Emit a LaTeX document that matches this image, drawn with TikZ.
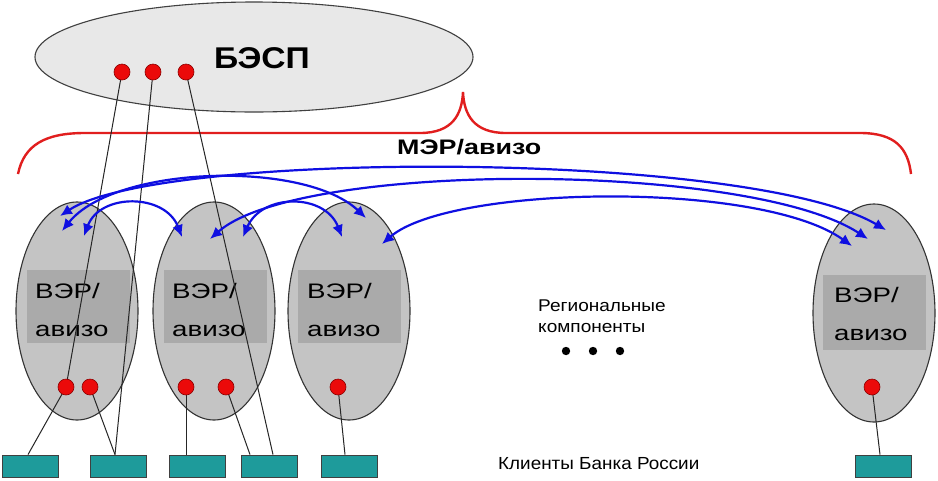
\documentclass[tikz,border=0pt]{standalone}
\usepackage{fontspec}
\setmainfont{Liberation Sans}
\usepackage{graphicx}
\usetikzlibrary{arrows.meta,shapes.geometric}
\definecolor{toplight}{RGB}{232,232,232}
\definecolor{regfill}{RGB}{196,196,196}
\definecolor{bandfill}{RGB}{170,170,170}
\definecolor{dotred}{RGB}{235,10,10}
\definecolor{tealbox}{RGB}{30,155,155}
\definecolor{arrblue}{RGB}{15,15,225}
\definecolor{bracered}{RGB}{225,30,30}
\tikzset{
  topell/.style={ellipse, draw=black!75, line width=1.1pt, fill=toplight, minimum width=438pt, minimum height=110pt, inner sep=0pt},
  reg/.style={ellipse, draw=black!80, line width=1.1pt, fill=regfill, minimum width=122pt, minimum height=218pt, inner sep=0pt},
  band/.style={fill=bandfill},
  rdot/.style={circle, fill=dotred, draw=red!55!black, line width=0.6pt, minimum size=16pt, inner sep=0pt},
  kbox/.style={rectangle, fill=tealbox, draw=black!75, line width=0.8pt, minimum width=56pt, minimum height=22pt, inner sep=0pt},
  wire/.style={draw=black!85, line width=1pt},
  barr/.style={draw=arrblue, line width=2.2pt, {Latex[length=12pt,width=11pt]}-{Latex[length=12pt,width=11pt]}},
  brace/.style={draw=bracered, line width=2.4pt},
  regtxt/.style={anchor=base west, font=\fontsize{21}{21}\selectfont, inner sep=0pt},
  small/.style={anchor=base west, font=\fontsize{17}{17}\selectfont, inner sep=0pt}
}
\begin{document}
\begin{tikzpicture}[x=1pt,y=-1pt]
\fill[white] (0,0) rectangle (938,480);
\useasboundingbox (0,0) rectangle (938,480);

% top ellipse
\node[topell] (bsp) at (254,57) {};
\node[font=\fontsize{30}{30}\selectfont\bfseries, anchor=base west, inner sep=0pt] (bsptxt) at (214,68) {\scalebox{1.12}[1]{БЭСП}};

% brace
\draw[brace] (18,174) .. controls (24,145) and (45,133) .. (85,133) -- (420,133)
  .. controls (452,133) and (462,115) .. (463,92)
  .. controls (464,115) and (474,133) .. (506,133) -- (860,133)
  .. controls (895,133) and (908,148) .. (911,174);
\node[font=\fontsize{21}{21}\selectfont\bfseries, anchor=base west, inner sep=0pt] (mer) at (397,154) {\scalebox{1.28}[1]{МЭР/авизо}};

% regional ellipses
\node[reg] (e1) at (77,311) {};
\node[reg] (e2) at (214,311) {};
\node[reg] (e3) at (349,311) {};
\node[reg] (e4) at (874,313) {};
\fill[band] (27,270) rectangle (130,343);
\fill[band] (164,270) rectangle (267,343);
\fill[band] (298,270) rectangle (401,343);
\fill[band] (823,275) rectangle (926,350);
\node[regtxt] (t1a) at (35,298) {\scalebox{1.32}[1]{ВЭР/}};
\node[regtxt] (t1b) at (35,336) {\scalebox{1.32}[1]{авизо}};
\node[regtxt] (t2a) at (172,298) {\scalebox{1.32}[1]{ВЭР/}};
\node[regtxt] (t2b) at (172,336) {\scalebox{1.32}[1]{авизо}};
\node[regtxt] (t3a) at (307,298) {\scalebox{1.32}[1]{ВЭР/}};
\node[regtxt] (t3b) at (307,336) {\scalebox{1.32}[1]{авизо}};
\node[regtxt] (t4a) at (834,302) {\scalebox{1.32}[1]{ВЭР/}};
\node[regtxt] (t4b) at (834,340) {\scalebox{1.32}[1]{авизо}};

% texts in the middle
\node[small] (rk1) at (538,311) {\scalebox{1.12}[1]{Региональные}};
\node[small] (rk2) at (538,332) {\scalebox{1.12}[1]{компоненты}};
\foreach \i/\xx in {1/566,2/593,3/620} \fill (\xx,351) circle (4.2pt);
\node[small, font=\fontsize{17.5}{17.5}\selectfont] (kbr) at (498,469) {\scalebox{1.08}[1]{Клиенты Банка России}};

% boxes
\node[kbox] (k1) at (30,466) {};
\node[kbox] (k2) at (118,466) {};
\node[kbox] (k3) at (197,466) {};
\node[kbox] (k4) at (269,466) {};
\node[kbox] (k5) at (349,466) {};
\node[kbox] (k6) at (883,466) {};

% dot positions
\coordinate (p1) at (122,72);
\coordinate (p2) at (153,72);
\coordinate (p3) at (186,72);
\coordinate (q11) at (66,387);
\coordinate (q12) at (90,387);
\coordinate (q21) at (186,387);
\coordinate (q22) at (226,387);
\coordinate (q31) at (338,387);
\coordinate (q41) at (872,387);

% wires
\draw[wire] (p1) -- (q11);
\draw[wire] (q11) -- (k1.north -| 28,0);
\draw[wire] (p2) -- (k2.north -| 115,0);
\draw[wire] (q12) -- (k2.north -| 115,0);
\draw[wire] (p3) -- (k4.north -| 273,0);
\draw[wire] (q21) -- (k3.north -| 186,0);
\draw[wire] (q22) -- (k4.north -| 250,0);
\draw[wire] (q31) -- (k5.north -| 345,0);
\draw[wire] (q41) -- (k6.north -| 880,0);

% red dots
\foreach \c in {p1,p2,p3,q11,q12,q21,q22,q31,q41}
  \node[rdot] (n\c) at (\c) {};

% arrow ends
\coordinate (a1a) at (60,216);
\coordinate (a1b) at (62,231);
\coordinate (a1c) at (84,236);
\coordinate (a2a) at (182,237);
\coordinate (a2b) at (210,239);
\coordinate (a2c) at (243,237);
\coordinate (a3a) at (366,218);
\coordinate (a3b) at (342,237);
\coordinate (a3c) at (382,244);
\coordinate (a4a) at (852,246);
\coordinate (a4b) at (868,239);
\coordinate (a4c) at (886,230);

% blue arrows
\draw[barr] (a1c) .. controls (100,193) and (165,193) .. (a2a);
\draw[barr] (a2c) .. controls (262,193) and (325,193) .. (a3b);
\draw[barr] (a1b) .. controls (115,165) and (305,160) .. (a3a);
\draw[barr] (a1a) .. controls (160,150) and (750,150) .. (a4c);
\draw[barr] (a2b) .. controls (300,160) and (750,162) .. (a4b);
\draw[barr] (a3c) .. controls (450,185) and (760,180) .. (a4a);
\end{tikzpicture}
\end{document}
